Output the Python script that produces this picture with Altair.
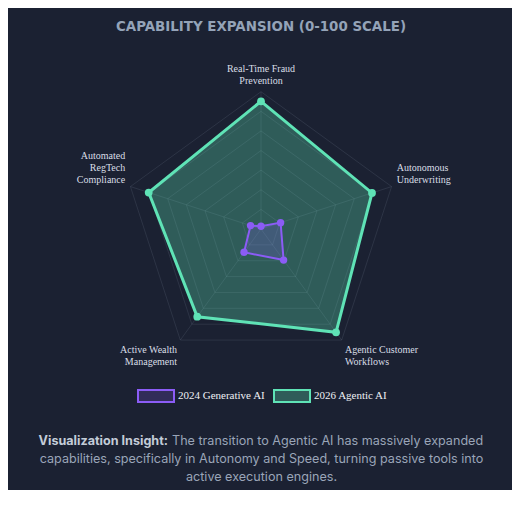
import altair as alt
import pandas as pd

title_text = "CAPABILITY EXPANSION (0-100 SCALE)"
categories = [
    ["Real-Time Fraud", "Prevention"],
    ["Autonomous", "Underwriting"],
    ["Agentic Customer", "Workflows"],
    ["Active Wealth", "Management"],
    ["Automated", "RegTech", "Compliance"],
]
series_names = ["2024 Generative AI", "2026 Agentic AI"]
gen_2024 = [2, 15, 28, 21, 8]
agentic_2026 = [93, 85, 93, 79, 86]
ring_levels = [14.29, 28.57, 42.86, 57.14, 71.43, 85.71, 100]
insight_bold = "Visualization Insight:"
insight_line1 = "The transition to Agentic AI has massively expanded"
insight_line2 = "capabilities, specifically in Autonomy and Speed, turning passive tools into"
insight_line3 = "active execution engines."

BG = "#1b2132"
PURPLE = "#8b5cf6"
TEAL = "#5fe3b6"
PURPLE_FILL = "rgba(139,92,246,0.2)"
TEAL_FILL = "rgba(95,227,182,0.3)"
GRID = "rgba(148,163,184,0.15)"
LABEL = "#d9dee6"

n = len(categories)
poly_rows = []
for s, vals in zip(series_names, [gen_2024, agentic_2026]):
    for i in range(n):
        poly_rows.append({"series": s, "idx": i, "value": vals[i]})
poly = pd.DataFrame(poly_rows)
rings = pd.DataFrame([{"ring": lv, "idx": i} for lv in ring_levels for i in range(n)])
spokes = pd.DataFrame([{"idx": i, "value": ring_levels[-1]} for i in range(n)])
labels = pd.DataFrame([{"idx": i, "lines": categories[i], "value": 104} for i in range(n)])

ANG = f"PI/2 - datum.idx*2*PI/{n}"
xs = alt.Scale(domain=[-184.27, 182.81], nice=False, zero=False)
ys = alt.Scale(domain=[-190.1, 160.96], nice=False, zero=False)
X = alt.X("px:Q", scale=xs, axis=None)
Y = alt.Y("py:Q", scale=ys, axis=None)


def polar(ch, rfield="value"):
    return ch.transform_calculate(
        ang=ANG,
        px=f"datum.{rfield}*cos(datum.ang)",
        py=f"datum.{rfield}*sin(datum.ang)",
    )


grid = polar(alt.Chart(rings), "ring").mark_line(
    interpolate="linear-closed", stroke=GRID, strokeWidth=1
).encode(x=X, y=Y, detail="ring:N", order="idx:Q")

spk = polar(alt.Chart(spokes)).transform_calculate(zero="0").mark_rule(
    stroke=GRID, strokeWidth=1
).encode(
    x=alt.X("zero:Q", scale=xs, axis=None),
    y=alt.Y("zero:Q", scale=ys, axis=None),
    x2="px:Q",
    y2="py:Q",
)

leg = alt.Legend(
    orient="none",
    legendX=141,
    legendY=381,
    direction="horizontal",
    title=None,
    symbolType="M-3,-1H3V1H-3Z",
    symbolSize=144,
    symbolStrokeWidth=2,
    symbolOpacity=1,
    labelFont="Liberation Serif",
    labelFontSize=11,
    labelColor="#eef0f4",
    labelOffset=15,
    columnPadding=4,
    padding=0,
)
stroke_scale = alt.Scale(domain=series_names, range=[PURPLE, TEAL])
fill_scale = alt.Scale(domain=series_names, range=[PURPLE_FILL, TEAL_FILL])


def series_layer(name, width):
    return polar(alt.Chart(poly).transform_filter(alt.datum.series == name)).mark_line(
        interpolate="linear-closed", strokeWidth=width
    ).encode(
        x=X,
        y=Y,
        order="idx:Q",
        stroke=alt.Stroke("series:N", scale=stroke_scale, legend=leg),
        fill=alt.Fill("series:N", scale=fill_scale, legend=leg),
    )


def point_layer(name, size):
    return polar(alt.Chart(poly).transform_filter(alt.datum.series == name)).mark_circle(
        size=size, opacity=1
    ).encode(
        x=X, y=Y, color=alt.Color("series:N", scale=stroke_scale, legend=None)
    )


def label_layer(idxs, align, baseline, dy):
    return polar(alt.Chart(labels).transform_filter(
        alt.FieldOneOfPredicate(field="idx", oneOf=idxs)
    )).mark_text(
        font="Liberation Serif", fontSize=10, lineHeight=12, color=LABEL,
        align=align, baseline=baseline, dy=dy,
    ).encode(x=X, y=Y, text="lines")


def text_mark(txt, x, y, align, size=12.6, weight="normal", color="#9aa5b8", font="Inter"):
    return alt.Chart(pd.DataFrame({"t": [txt]})).mark_text(
        font=font, fontSize=size, fontWeight=weight, color=color,
        align=align, baseline="middle",
    ).encode(x=alt.value(x), y=alt.value(y), text="t:N")


title = text_mark(title_text, 253, 19, "center", size=13.4, weight="bold",
                  color="#94a3b8", font="DejaVu Sans")
ins_b = text_mark(insight_bold, 160, 432.7, "right", weight="bold", color="#c3ccd8")
ins_1 = text_mark(insight_line1, 164, 432.7, "left")
ins_2 = text_mark(insight_line2, 253.5, 451, "center")
ins_3 = text_mark(insight_line3, 253.5, 468.7, "center")

chart = alt.layer(
    grid,
    spk,
    series_layer(series_names[1], 3),
    series_layer(series_names[0], 2),
    point_layer(series_names[1], 60),
    point_layer(series_names[0], 55),
    label_layer([0], "center", "bottom", -12),
    label_layer([1], "left", "bottom", -12),
    label_layer([4], "right", "bottom", -24),
    label_layer([2], "left", "top", 0),
    label_layer([3], "right", "top", 0),
    title,
    ins_b,
    ins_1,
    ins_2,
    ins_3,
).properties(
    width=504, height=482, autosize=alt.AutoSizeParams(type="none"), padding=0
).configure(background=BG).configure_view(stroke=None)

chart.save("out.html", embed_options={"renderer": "svg", "actions": False})
